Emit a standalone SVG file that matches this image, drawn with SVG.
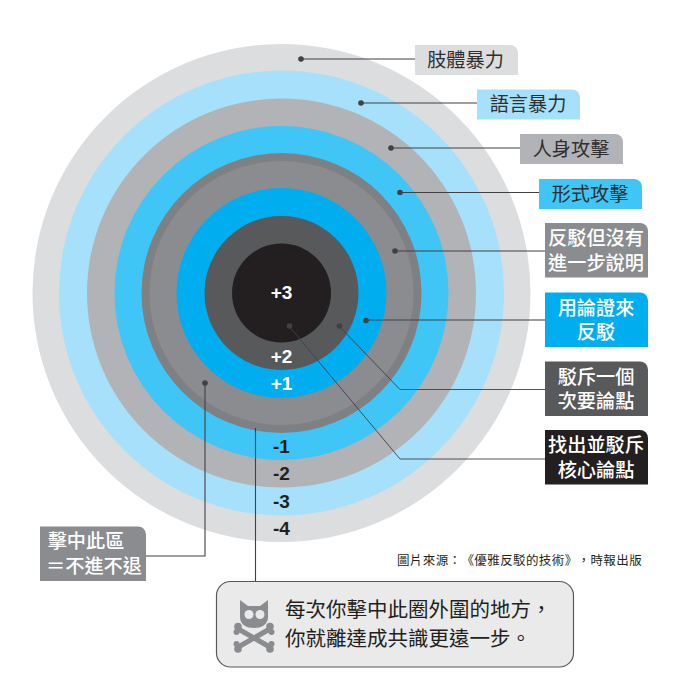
<svg xmlns="http://www.w3.org/2000/svg" width="687" height="680" viewBox="0 0 687 680">
<style>
text{font-family:"Noto Sans CJK TC","Noto Sans",sans-serif;text-anchor:middle;text-spacing-trim:space-all}
.d{fill:#2f2e30;font-size:19.200px}
.w{fill:#fff;font-size:19.200px;font-weight:500}
.n{font-family:"Liberation Sans",Arial,sans-serif;font-weight:700;font-size:19px}
.l{fill:none;stroke:#414042;stroke-width:1.100}
.t{fill:none;stroke:#414042;stroke-width:.9}
.p{fill:#414042}
</style>
<rect width="687" height="680" fill="#fff"/>
<g id="target">
<circle cx="281.500" cy="293" r="249" fill="#dcdddf"/>
<circle cx="281.500" cy="293" r="222.500" fill="#a6e0fb"/>
<circle cx="281.500" cy="293" r="194.500" fill="#b1b3b6"/>
<circle cx="281.500" cy="293" r="167" fill="#3fc5f6"/>
<circle cx="281.500" cy="293" r="140" fill="#7f8083"/>
<circle cx="281.500" cy="293" r="132" fill="#8a8c8f"/>
<circle cx="281.500" cy="293" r="105" fill="#00aeef"/>
<circle cx="281.500" cy="293" r="77" fill="#58595b"/>
<circle cx="281.500" cy="293" r="49.500" fill="#231f20"/>
<text class="n" x="281.500" y="299" fill="#fff">+3</text>
<text class="n" x="281.500" y="362.500" fill="#fff">+2</text>
<text class="n" x="281.500" y="390" fill="#fff">+1</text>
<text class="n" x="281.500" y="453" fill="#231f20">-1</text>
<text class="n" x="281.500" y="480" fill="#231f20">-2</text>
<text class="n" x="281.500" y="507.500" fill="#231f20">-3</text>
<text class="n" x="281.500" y="534.500" fill="#231f20">-4</text>
</g>
<g id="connectors">
<path class="l" d="M301 59H415M361 103H477M391 148H520M400 192.500H539M395 251H545M366 320H545"/>
<path class="t" d="M339 326L400 389.500H545M289 326L400 459H545"/>
<path class="l" d="M205 383V556H146M255.500 428V581"/>
<g class="p">
<circle cx="301" cy="59" r="2.800"/><circle cx="361" cy="103" r="2.800"/><circle cx="391" cy="148" r="2.800"/><circle cx="400" cy="192.500" r="2.800"/><circle cx="395" cy="251" r="2.800"/><circle cx="366" cy="320.500" r="2.800"/><circle cx="339.500" cy="326" r="2.800"/><circle cx="289.500" cy="326" r="2.800"/><circle cx="205" cy="383" r="2.800"/>
</g>
</g>
<g id="n1"><path d="M415 45H510a8 8 0 0 1 8 8V75H415Z" fill="#dcdddf"/><text class="d" x="465.500" y="66.500">肢體暴力</text></g>
<g id="n2"><path d="M477 89.500H572a8 8 0 0 1 8 8V119.500H477Z" fill="#a6e0fb"/><text class="d" x="528" y="111">語言暴力</text></g>
<g id="n3"><path d="M520 134H615a8 8 0 0 1 8 8V164H520Z" fill="#b1b3b6"/><text class="d" x="571" y="156">人身攻擊</text></g>
<g id="n4"><path d="M539 179H634a8 8 0 0 1 8 8V209H539Z" fill="#3fc5f6"/><text class="d" x="590" y="200.500">形式攻擊</text></g>
<g id="n5"><path d="M545 223H640a8 8 0 0 1 8 8V277.500H545Z" fill="#8a8c8f"/><text class="w"><tspan x="596" y="245">反駁但沒有</tspan><tspan x="596" y="270">進一步說明</tspan></text></g>
<g id="n6"><path d="M545 292.500H640a8 8 0 0 1 8 8V347H545Z" fill="#00aeef"/><text class="w"><tspan x="596" y="315">用論證來</tspan><tspan x="596" y="339">反駁</tspan></text></g>
<g id="n7"><path d="M545 361.500H640a8 8 0 0 1 8 8V416H545Z" fill="#58595b"/><text class="w"><tspan x="596" y="384">駁斥一個</tspan><tspan x="596" y="408">次要論點</tspan></text></g>
<g id="n8"><path d="M545 430H640a8 8 0 0 1 8 8V484.500H545Z" fill="#231f20"/><text class="w"><tspan x="596" y="452">找出並駁斥</tspan><tspan x="596" y="477">核心論點</tspan></text></g>
<g id="n9"><path d="M40 526.500H138a8 8 0 0 1 8 8V581H40Z" fill="#8a8c8f"/><text class="w"><tspan x="86" y="548">擊中此區</tspan><tspan x="94" y="573">＝不進不退</tspan></text></g>
<text x="519.500" y="565" fill="#231f20" font-size="12.500" style="letter-spacing:.4px">圖片來源：《優雅反駁的技術》，時報出版</text>
<g id="note">
<rect x="216.500" y="581.500" width="357" height="85.500" rx="14" fill="#eaeaeb" stroke="#58595b" stroke-width="1.200"/>
<g id="icon" fill="#8a8c8f">
<path d="M240 600L248 606H260L268 600V617C268 625 261 628 254 628C247 628 240 625 240 617Z"/>
<g stroke="#8a8c8f" stroke-width="5" stroke-linecap="round"><path d="M240 630L268 646M268 630L240 646"/></g>
<circle cx="238" cy="626.500" r="3.800"/><circle cx="270" cy="626.500" r="3.800"/><circle cx="238" cy="649" r="3.800"/><circle cx="270" cy="649" r="3.800"/>
<circle cx="236.500" cy="632" r="3"/><circle cx="271.500" cy="632" r="3"/><circle cx="236.500" cy="644" r="3"/><circle cx="271.500" cy="644" r="3"/>
<circle cx="249" cy="614.500" r="4.500" fill="#eaeaeb"/><circle cx="260" cy="614.500" r="4.500" fill="#eaeaeb"/>
</g>
<text fill="#231f20" font-size="20.500" style="text-anchor:start"><tspan x="285" y="617">每次你擊中此圈外圍的地方，</tspan><tspan x="285" y="646">你就離達成共識更遠一步。</tspan></text>
</g>
</svg>
